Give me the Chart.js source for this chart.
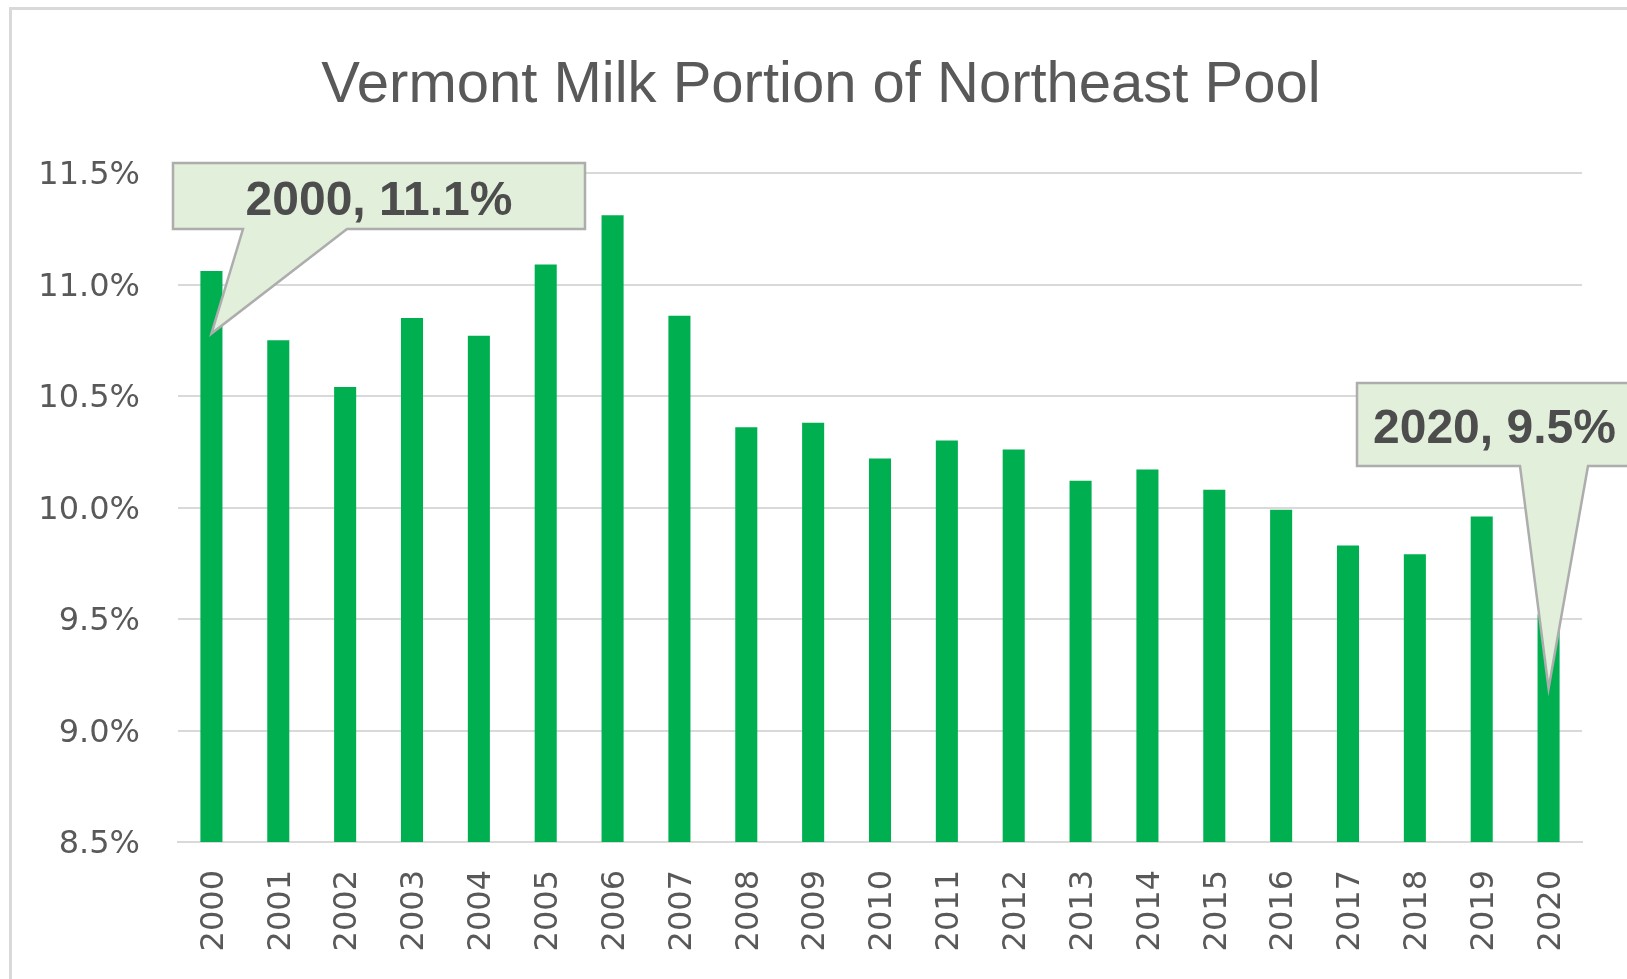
<!DOCTYPE html>
<html>
<head>
<meta charset="utf-8">
<script src="https://cdn.jsdelivr.net/npm/chart.js@4.4.1/dist/chart.umd.min.js"></script>
<style>
  html, body { margin: 0; padding: 0; background: #fff; }
  #wrap { position: relative; width: 1627px; height: 979px; }
</style>
</head>
<body>
<div id="wrap"><canvas id="milk-chart" width="1627" height="979"></canvas></div>
<script>
// data
const years = ['2000', '2001', '2002', '2003', '2004', '2005', '2006', '2007', '2008', '2009', '2010',
               '2011', '2012', '2013', '2014', '2015', '2016', '2017', '2018', '2019', '2020'];
const vtShare = [11.06, 10.75, 10.54, 10.85, 10.77, 11.09, 11.31, 10.86, 10.36, 10.38, 10.22,
                 10.30, 10.26, 10.12, 10.17, 10.08, 9.99, 9.83, 9.79, 9.96, 9.52];
const yMin = 8.5;
const yMax = 11.5;
const yStep = 0.5;

// callouts
const calloutYears = ['2000', '2020'];
const calloutLabels = ['2000, 11.1%', '2020, 9.5%'];
const calloutTips = [10.78, 9.19];   // value where the pointer ends

const chartTitle = 'Vermont Milk Portion of Northeast Pool';

// frame + title
const framePlugin = {
    id: 'frame',
    beforeDraw(chart) {
        const ctx = chart.ctx;
        ctx.save();
        ctx.fillStyle = '#ffffff';
        ctx.fillRect(0, 0, chart.width, chart.height);
        ctx.strokeStyle = '#D9D9D9';
        ctx.lineWidth = 3;
        ctx.strokeRect(10.5, 8.5, 1700, 1100);
        ctx.fillStyle = '#595959';
        ctx.font = '58px "Liberation Sans", Arial, sans-serif';
        ctx.textAlign = 'center';
        ctx.textBaseline = 'alphabetic';
        ctx.fillText(chartTitle, 821, 102);
        ctx.restore();
    }
};

// speech-bubble labels
const calloutPlugin = {
    id: 'callouts',
    afterDatasetsDraw(chart, args, opts) {
        const ctx = chart.ctx;
        const xs = chart.scales.x, ys = chart.scales.y;
        opts.boxes.forEach((b, i) => {
            const idx = years.indexOf(calloutYears[i]);
            const tipX = xs.getPixelForValue(idx);
            const tipY = ys.getPixelForValue(calloutTips[i]);
            ctx.save();
            ctx.beginPath();
            ctx.moveTo(b.left, b.top);
            ctx.lineTo(b.right, b.top);
            ctx.lineTo(b.right, b.bottom);
            ctx.lineTo(b.baseR, b.bottom);
            ctx.lineTo(tipX, tipY);
            ctx.lineTo(b.baseL, b.bottom);
            ctx.lineTo(b.left, b.bottom);
            ctx.closePath();
            ctx.fillStyle = '#E2EFDA';
            ctx.fill();
            ctx.strokeStyle = '#ADADAD';
            ctx.lineWidth = 2.5;
            ctx.stroke();
            ctx.fillStyle = '#4D4D4D';
            ctx.font = 'bold 48px "Liberation Sans", Arial, sans-serif';
            ctx.textAlign = b.align;
            ctx.textBaseline = 'alphabetic';
            ctx.fillText(calloutLabels[i], b.textX, b.textY);
            ctx.restore();
        });
    }
};

const tickFont = { family: '"DejaVu Sans", Verdana, sans-serif', size: 32 };

const canvas = document.getElementById('milk-chart');
const ctx = canvas.getContext('2d');

const chart = new Chart(ctx, {
    type: 'bar',
    data: {
        labels: years,
        datasets: [{
            label: 'Vermont share',
            data: vtShare,
            backgroundColor: '#00B050',
            borderWidth: 0,
            categoryPercentage: 1.0,
            barPercentage: 0.33
        }]
    },
    options: {
        responsive: false,
        animation: false,
        layout: { padding: { top: 173, right: 45, bottom: 0, left: 0 } },
        plugins: {
            legend: { display: false },
            tooltip: { enabled: false },
            title: { display: false },
            callouts: {
                boxes: [
                    { left: 173, top: 163, right: 585, bottom: 229, baseL: 243, baseR: 347,
                      textX: 379, textY: 215, align: 'center' },
                    { left: 1357, top: 383, right: 1645, bottom: 466, baseL: 1520, baseR: 1588,
                      textX: 1373, textY: 443, align: 'left' }
                ]
            }
        },
        scales: {
            x: {
                grid: { display: false, drawTicks: false },
                border: { display: true, color: '#D9D9D9', width: 2 },
                ticks: {
                    color: '#595959',
                    font: tickFont,
                    minRotation: 90,
                    maxRotation: 90,
                    padding: 28,
                    labelOffset: 3,
                    autoSkip: false
                },
                afterFit(scale) { scale.height = 137; }
            },
            y: {
                min: yMin,
                max: yMax,
                grid: { color: '#D9D9D9', lineWidth: 2, drawTicks: false },
                border: { display: false },
                ticks: {
                    stepSize: yStep,
                    color: '#595959',
                    font: tickFont,
                    padding: 38,
                    labelOffset: 3,
                    callback: (v) => v.toFixed(1) + '%'
                },
                afterFit(scale) { scale.width = 178; }
            }
        }
    },
    plugins: [framePlugin, calloutPlugin]
});
</script>
</body>
</html>
